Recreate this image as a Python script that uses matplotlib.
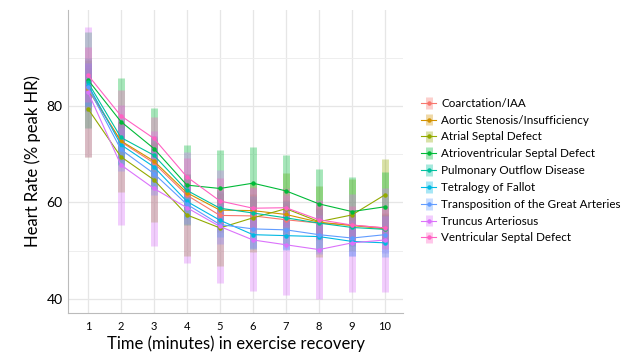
import numpy as np
import matplotlib.pyplot as plt
from matplotlib.colors import to_rgb

plt.rcParams['font.family'] = ['Lato', 'DejaVu Sans']

minutes = [1, 2, 3, 4, 5, 6, 7, 8, 9, 10]
groups = ["Coarctation/IAA", "Aortic Stenosis/Insufficiency", "Atrial Septal Defect",
          "Atrioventricular Septal Defect", "Pulmonary Outflow Disease", "Tetralogy of Fallot",
          "Transposition of the Great Arteries", "Truncus Arteriosus", "Ventricular Septal Defect"]
colors = ["#F8766D", "#D39200", "#93AA00", "#00BA38", "#00C19F",
          "#00B9E3", "#619CFF", "#DB72FB", "#FF61C3"]

# mean heart rate (% peak HR)
coa = [84.0, 72.6, 68.2, 61.5, 57.3, 57.2, 56.4, 55.7, 55.3, 54.7]
as_ai = [83.5, 72.8, 68.6, 62.0, 58.4, 58.3, 57.5, 55.9, 55.2, 54.5]
asd = [79.5, 69.5, 64.7, 57.4, 54.7, 56.8, 58.7, 56.0, 57.4, 61.6]
avsd = [85.5, 76.8, 71.2, 63.6, 62.9, 64.0, 62.4, 59.7, 58.1, 59.1]
pod = [85.0, 73.5, 69.8, 62.5, 58.8, 57.8, 56.8, 55.7, 54.8, 54.4]
tof = [84.5, 72.0, 67.4, 60.2, 56.3, 53.3, 53.1, 52.9, 51.9, 51.6]
tga = [84.0, 71.0, 66.0, 59.6, 55.4, 54.5, 54.3, 53.3, 52.6, 53.3]
truncus = [83.0, 67.8, 62.9, 58.9, 55.0, 52.2, 51.2, 50.2, 51.6, 52.2]
vsd = [86.5, 78.0, 73.3, 65.3, 60.3, 58.8, 58.9, 56.4, 55.3, 54.7]

# half-width of the vertical bars
coa_err = [4.5, 4.0, 4.0, 3.5, 3.5, 3.5, 3.5, 3.5, 3.0, 3.0]
as_err = [4.5, 4.0, 4.0, 3.5, 3.5, 3.5, 3.0, 3.0, 3.0, 3.0]
asd_err = [10.0, 7.3, 8.7, 8.6, 8.0, 7.2, 7.5, 7.4, 7.5, 7.4]
avsd_err = [10.0, 9.0, 8.5, 8.3, 8.0, 7.6, 7.4, 7.2, 7.2, 7.3]
pod_err = [5.0, 4.0, 4.0, 3.5, 3.5, 3.5, 3.5, 3.0, 3.0, 3.0]
tof_err = [4.5, 4.0, 4.0, 3.5, 3.5, 3.0, 3.0, 3.0, 3.0, 3.0]
tga_err = [5.0, 4.5, 4.5, 4.0, 4.0, 4.0, 4.0, 4.0, 3.8, 3.8]
truncus_err = [13.5, 12.5, 12.0, 11.5, 11.7, 10.7, 10.4, 10.3, 10.2, 10.9]
vsd_err = [5.7, 5.3, 4.5, 4.0, 4.7, 4.5, 4.1, 3.8, 4.0, 4.3]

means = [coa, as_ai, asd, avsd, pod, tof, tga, truncus, vsd]
errs = [coa_err, as_err, asd_err, avsd_err, pod_err, tof_err, tga_err, truncus_err, vsd_err]

fig = plt.figure(figsize=(6.3, 3.55), dpi=100)
ax = fig.add_axes([0.108, 0.118, 0.532, 0.854])

for name, col, m, e in zip(groups, colors, means, errs):
    ax.errorbar(minutes, m, yerr=e, color=col, lw=0.8, marker='o', ms=2.2,
                ecolor=(*to_rgb(col), 0.35), elinewidth=5,
                capsize=0, label=name)

ax.set_xlim(0.4, 10.55)
ax.set_ylim(37, 100)
ax.set_xticks(minutes)
ax.set_yticks([40, 60, 80])
ax.set_yticks([50, 70, 90], minor=True)
ax.grid(which='major', color='#e6e6e6', lw=0.9)
ax.grid(which='minor', axis='y', color='#eeeeee', lw=0.7)
ax.set_axisbelow(True)
for s in ['top', 'right']:
    ax.spines[s].set_visible(False)
for s in ['left', 'bottom']:
    ax.spines[s].set_color('#bbbbbb')
ax.tick_params(which='both', length=0)
ax.tick_params(axis='x', labelsize=8, pad=6)
ax.tick_params(axis='y', labelsize=10, pad=4)
ax.set_xlabel("Time (minutes) in exercise recovery", fontsize=12, labelpad=2)
ax.set_ylabel("Heart Rate (% peak HR)", fontsize=12, labelpad=4)

ax.legend(loc='center left', bbox_to_anchor=(1.04, 0.47), frameon=False,
          fontsize=8.4, handlelength=1.3, handletextpad=0.4, labelspacing=0.5,
          borderaxespad=0)

fig.savefig("out.png", dpi=100)
